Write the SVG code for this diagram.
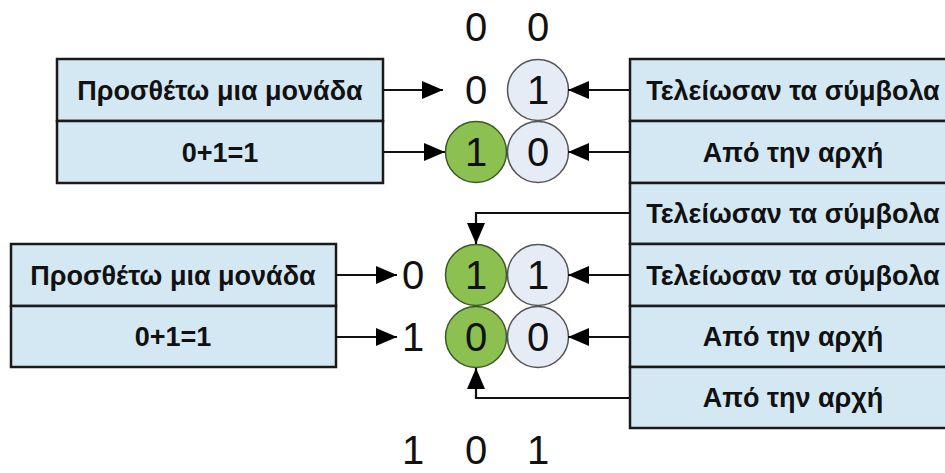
<svg xmlns="http://www.w3.org/2000/svg" width="945" height="473" viewBox="0 0 945 473">
<defs>
<marker id="ah" viewBox="0 0 10 10" refX="10" refY="5" markerWidth="21" markerHeight="18" markerUnits="userSpaceOnUse" orient="auto" preserveAspectRatio="none">
<path d="M0,0 L10,5 L0,10 z" fill="#000"/>
</marker>
<style>
.box{fill:#d3e8f3;stroke:#1a1a1a;stroke-width:2.5}
.bt{font-family:"Liberation Sans",Arial,sans-serif;font-weight:bold;font-size:27px;fill:#111;text-anchor:middle}
.dg{font-family:"Liberation Sans",Arial,sans-serif;font-size:40px;fill:#111;text-anchor:middle}
.cg{fill:#8cc152;stroke:#3c5a28;stroke-width:1.5}
.cl{fill:#e6ecf6;stroke:#555;stroke-width:1.5}
.ln{fill:none;stroke:#111;stroke-width:2.2;marker-end:url(#ah)}
</style>
</defs>
<rect width="945" height="473" fill="#fff"/>

<g id="left-top">
<rect class="box" x="57" y="59" width="326" height="62"/>
<rect class="box" x="57" y="121" width="326" height="62"/>
<text class="bt" x="220" y="100">Προσθέτω μια μονάδα</text>
<text class="bt" x="220" y="162">0+1=1</text>
</g>

<g id="left-bottom">
<rect class="box" x="11" y="244" width="325" height="62"/>
<rect class="box" x="11" y="306" width="325" height="61"/>
<text class="bt" x="173" y="285">Προσθέτω μια μονάδα</text>
<text class="bt" x="173" y="346">0+1=1</text>
</g>

<g id="right-box">
<rect class="box" x="630" y="59" width="320" height="62"/>
<rect class="box" x="630" y="121" width="320" height="62"/>
<rect class="box" x="630" y="183" width="320" height="61"/>
<rect class="box" x="630" y="244" width="320" height="62"/>
<rect class="box" x="630" y="306" width="320" height="61"/>
<rect class="box" x="630" y="367" width="320" height="61"/>
<text class="bt" x="793" y="100">Τελείωσαν τα σύμβολα</text>
<text class="bt" x="793" y="162">Από την αρχή</text>
<text class="bt" x="793" y="223">Τελείωσαν τα σύμβολα</text>
<text class="bt" x="793" y="285">Τελείωσαν τα σύμβολα</text>
<text class="bt" x="793" y="346">Από την αρχή</text>
<text class="bt" x="793" y="407">Από την αρχή</text>
</g>

<g id="digits-top">
<text class="dg" x="476" y="41">0</text>
<text class="dg" x="538" y="41">0</text>
<text class="dg" x="476" y="104">0</text>
<circle class="cl" cx="538" cy="90" r="30.5"/>
<text class="dg" x="538" y="104">1</text>
<circle class="cg" cx="476" cy="152" r="30.5"/>
<text class="dg" x="476" y="166">1</text>
<circle class="cl" cx="538" cy="152" r="30.5"/>
<text class="dg" x="538" y="166">0</text>
</g>

<g id="digits-bottom">
<text class="dg" x="413" y="289">0</text>
<circle class="cg" cx="476" cy="275" r="30.5"/>
<text class="dg" x="476" y="289">1</text>
<circle class="cl" cx="538" cy="275" r="30.5"/>
<text class="dg" x="538" y="289">1</text>
<text class="dg" x="413" y="351">1</text>
<circle class="cg" cx="476" cy="337" r="30.5"/>
<text class="dg" x="476" y="351">0</text>
<circle class="cl" cx="538" cy="337" r="30.5"/>
<text class="dg" x="538" y="351">0</text>
<text class="dg" x="413" y="464" font-size="38">1</text>
<text class="dg" x="476" y="464" font-size="38">0</text>
<text class="dg" x="538" y="464" font-size="38">1</text>
</g>

<g id="connectors">
<path class="ln" d="M383,90 H443"/>
<path class="ln" d="M383,152 H445"/>
<path class="ln" d="M630,90 H568"/>
<path class="ln" d="M630,152 H568"/>
<path class="ln" d="M336,275 H397"/>
<path class="ln" d="M336,337 H397"/>
<path class="ln" d="M630,213 H476 V244"/>
<path class="ln" d="M630,275 H568"/>
<path class="ln" d="M630,337 H568"/>
<path class="ln" d="M630,398 H476 V368"/>
</g>
</svg>
